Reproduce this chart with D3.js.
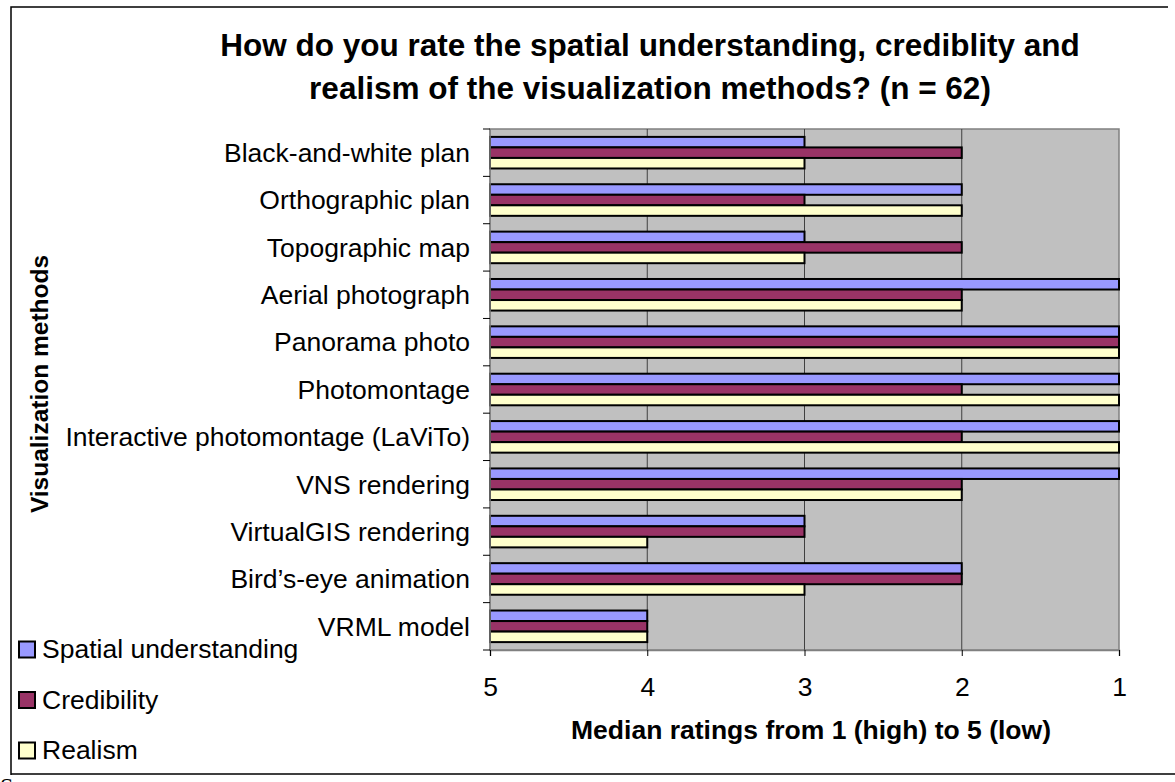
<!DOCTYPE html>
<html>
<head>
<meta charset="utf-8">
<script src="https://cdn.jsdelivr.net/npm/d3@7"></script>
<style>
  body { margin: 0; background: #fff; }
  text { font-family: "Liberation Sans", Arial, sans-serif; fill: #000; }
</style>
</head>
<body>
<svg width="1175" height="782"></svg>
<script>
// data (median ratings, 1 = high, 5 = low)
var methods = ["Black-and-white plan", "Orthographic plan", "Topographic map", "Aerial photograph",
    "Panorama photo", "Photomontage", "Interactive photomontage (LaViTo)", "VNS rendering",
    "VirtualGIS rendering", "Bird\u2019s-eye animation", "VRML model"];
var spatial     = [3, 2, 3, 1, 1, 1, 1, 1, 3, 2, 4];
var credibility = [2, 3, 2, 2, 1, 2, 2, 2, 3, 2, 4];
var realism     = [3, 2, 3, 2, 1, 1, 1, 2, 4, 3, 4];
var seriesNames = ["Spatial understanding", "Credibility", "Realism"];
var seriesColors = ["#9999ff", "#993366", "#ffffcc"];
var ratingTicks = [5, 4, 3, 2, 1];

var series = [spatial, credibility, realism];

var svg = d3.select("svg"),
    margin = {top: 129, right: 56, bottom: 132, left: 490},
    width = 1175 - margin.left - margin.right,
    height = 782 - margin.top - margin.bottom;

// outer chart frame
svg.append("path")
    .attr("d", "M11,775 L11,7 L1168,7 M11,774 L1175,774")
    .attr("fill", "none")
    .attr("stroke", "#000")
    .attr("stroke-width", 1.5);

svg.append("text")
    .attr("x", 0).attr("y", 794)
    .style("font-family", "'Liberation Serif', serif")
    .style("font-size", "24px")
    .text("S");

// title
var title = svg.append("text")
    .attr("text-anchor", "middle")
    .style("font-weight", "bold")
    .style("font-size", "31.5px");
title.append("tspan").attr("x", 650).attr("y", 56)
    .text("How do you rate the spatial understanding, crediblity and");
title.append("tspan").attr("x", 650).attr("y", 99)
    .text("realism of the visualization methods? (n = 62)");

var g = svg.append("g").attr("transform", "translate(" + margin.left + "," + margin.top + ")");

var x = d3.scaleLinear().domain([5, 1]).range([0, width]);
var y = d3.scaleBand().domain(methods).range([0, height]);

// plot background
g.append("rect")
    .attr("width", width)
    .attr("height", height)
    .attr("fill", "#c0c0c0")
    .attr("stroke", "#808080")
    .attr("stroke-width", 1.5);

// gridlines
g.selectAll(".grid")
    .data([4, 3, 2])
    .enter().append("line")
    .attr("x1", function(d) { return x(d); })
    .attr("x2", function(d) { return x(d); })
    .attr("y1", 0)
    .attr("y2", height)
    .attr("stroke", "#404040")
    .attr("stroke-width", 1);

// bars
var bw = y.bandwidth() / 4.5,
    off = (y.bandwidth() - 3 * bw) / 2;

series.forEach(function(vals, s) {
    g.selectAll(".bar" + s)
        .data(vals)
        .enter().append("rect")
        .attr("x", x(5))
        .attr("y", function(d, i) { return y(methods[i]) + off + s * bw; })
        .attr("width", function(d) { return x(d) - x(5); })
        .attr("height", bw)
        .attr("fill", seriesColors[s])
        .attr("stroke", "#000")
        .attr("stroke-width", 2);
});

// x axis
var xAxis = d3.axisBottom(x)
    .tickValues(ratingTicks)
    .tickFormat(d3.format("d"))
    .tickSize(6)
    .tickPadding(21);

var xg = g.append("g")
    .attr("transform", "translate(0," + height + ")")
    .call(xAxis);
xg.select(".domain").attr("stroke", "#808080").attr("stroke-width", 1.5);
xg.selectAll(".tick line").attr("stroke", "#000");
xg.selectAll("text").style("font-size", "26.5px").style("font-family", "'Liberation Sans', Arial, sans-serif");

// y axis: ticks at the band edges, labels at band centres
g.append("line")
    .attr("x1", 0).attr("x2", 0)
    .attr("y1", 0).attr("y2", height)
    .attr("stroke", "#808080")
    .attr("stroke-width", 1.5);

g.selectAll(".ytick")
    .data(d3.range(methods.length + 1))
    .enter().append("line")
    .attr("x1", -7).attr("x2", 0)
    .attr("y1", function(i) { return i * y.step(); })
    .attr("y2", function(i) { return i * y.step(); })
    .attr("stroke", "#000");

g.selectAll(".ylab")
    .data(methods)
    .enter().append("text")
    .attr("x", -20)
    .attr("y", function(d) { return y(d) + y.bandwidth() / 2; })
    .attr("dy", "0.35em")
    .attr("text-anchor", "end")
    .style("font-size", "26.5px")
    .text(function(d) { return d; });

// axis titles
svg.append("text")
    .attr("x", 811).attr("y", 739)
    .attr("text-anchor", "middle")
    .style("font-weight", "bold")
    .style("font-size", "26.5px")
    .text("Median ratings from 1 (high) to 5 (low)");

svg.append("text")
    .attr("transform", "translate(48,384) rotate(-90)")
    .attr("text-anchor", "middle")
    .style("font-weight", "bold")
    .style("font-size", "24.5px")
    .text("Visualization methods");

// legend
var legend = svg.selectAll(".legend")
    .data(seriesNames)
    .enter().append("g")
    .attr("transform", function(d, i) { return "translate(19," + (641.5 + i * 50.5) + ")"; });

legend.append("rect")
    .attr("width", 16).attr("height", 16)
    .attr("fill", function(d, i) { return seriesColors[i]; })
    .attr("stroke", "#000")
    .attr("stroke-width", 2);

legend.append("text")
    .attr("x", 23).attr("y", 16.5)
    .style("font-size", "26.5px")
    .text(function(d) { return d; });
</script>
</body>
</html>
